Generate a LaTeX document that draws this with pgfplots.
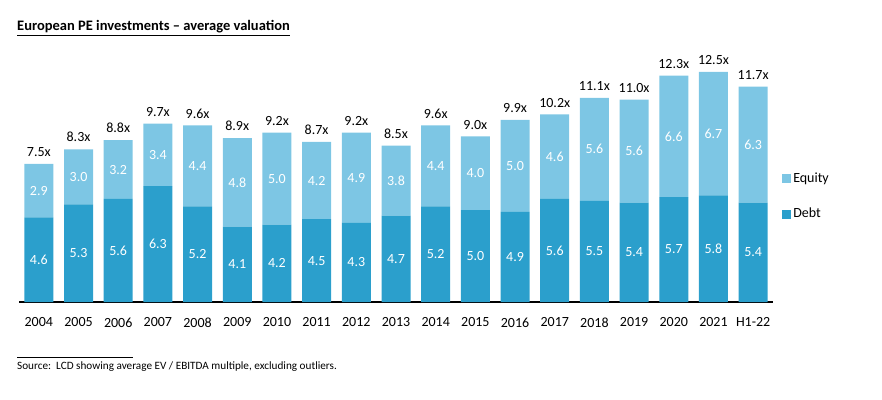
\documentclass[border=0pt]{standalone}
\usepackage{pgfplots}
\pgfplotsset{compat=1.18}
\usepackage{pgfplotstable}
\usepackage{fontspec}
\setmainfont{Carlito}
\definecolor{debt}{HTML}{2B9FCC}
\definecolor{equity}{HTML}{7DC6E4}
\pgfplotstableread{
x debt equity total
0 4.6 2.9 7.5
1 5.3 3.0 8.3
2 5.6 3.2 8.8
3 6.3 3.4 9.7
4 5.2 4.4 9.6
5 4.1 4.8 8.9
6 4.2 5.0 9.2
7 4.5 4.2 8.7
8 4.3 4.9 9.2
9 4.7 3.8 8.5
10 5.2 4.4 9.6
11 5.0 4.0 9.0
12 4.9 5.0 9.9
13 5.6 4.6 10.2
14 5.5 5.6 11.1
15 5.4 5.6 11.0
16 5.7 6.6 12.3
17 5.8 6.7 12.5
18 5.4 6.3 11.7
}\datatable
\pgfplotstablecreatecol[expr={\thisrow{debt}/2}]{dmid}\datatable
\pgfplotstablecreatecol[expr={\thisrow{debt}+\thisrow{equity}/2}]{emid}\datatable
\pgfplotsset{base/.style={
  at={(19pt,97pt)}, anchor=south west, scale only axis,
  width=754pt, height=239.2pt,
  xmin=-0.5, xmax=18.5, ymin=0, ymax=13,
}}
\begin{document}
\fontsize{14}{16}\selectfont
\begin{tikzpicture}
\path[use as bounding box] (0,0) rectangle (882pt,399pt);
\begin{axis}[base,
  ybar stacked, bar width=29pt,
  axis x line*=bottom, axis y line=none,
  x axis line style={line width=2pt, -},
  xtick=data, major tick length=0pt,
  xticklabels={2004,2005,2006,2007,2008,2009,2010,2011,2012,2013,2014,2015,2016,2017,2018,2019,2020,2021,H1-22},
  xticklabel style={font=\fontsize{14}{16}\selectfont, yshift=-11pt},
  legend style={draw=none, fill=none, at={(1.012,0.442)}, anchor=west,
    font=\fontsize{14}{16}\selectfont, row sep=20pt, inner sep=0pt},
  legend cell align=left,
  reverse legend,
  legend image code/.code={\fill[#1] (0pt,-4.5pt) rectangle (9pt,4.5pt);},
]
\addplot[fill=debt, draw=none] table[x=x,y=debt]{\datatable};
\addlegendentry{Debt}
\addplot[fill=equity, draw=none] table[x=x,y=equity]{\datatable};
\addlegendentry{Equity}
\end{axis}
\begin{axis}[base, hide axis, clip=false]
\addplot[only marks, mark=none, point meta=explicit symbolic, nodes near coords,
  every node near coord/.style={anchor=center, text=white, font=\fontsize{14}{16}\selectfont}]
  table[x=x, y=dmid, meta=debt]{\datatable};
\addplot[only marks, mark=none, point meta=explicit symbolic, nodes near coords,
  every node near coord/.style={anchor=center, text=white, font=\fontsize{14}{16}\selectfont}]
  table[x=x, y=emid, meta=equity]{\datatable};
\addplot[only marks, mark=none, point meta=explicit symbolic,
  nodes near coords={\pgfplotspointmeta x},
  every node near coord/.style={anchor=south, text=black, inner sep=2pt, yshift=5pt, font=\fontsize{14}{16}\selectfont}]
  table[x=x, y=total, meta=total]{\datatable};
\end{axis}
\node[anchor=west, inner sep=0pt, font=\bfseries\fontsize{14.5}{17}\selectfont] at (17pt,371pt) {\underline{European PE investments – average valuation}};
\draw[line width=0.6pt] (17pt,42pt) -- (133pt,42pt);
\node[anchor=west, inner sep=0pt, font=\fontsize{11.2}{13}\selectfont] at (17pt,32pt) {Source:\ \ LCD showing average EV / EBITDA multiple, excluding outliers.};
\end{tikzpicture}
\end{document}
